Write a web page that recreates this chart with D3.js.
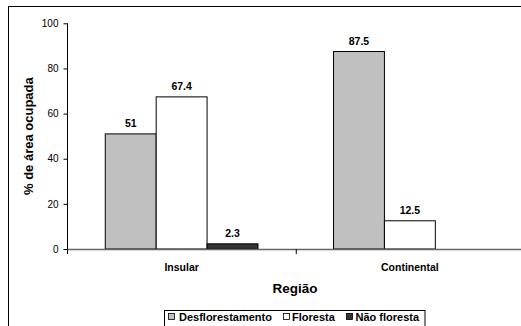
<!DOCTYPE html>
<html>
<head>
<meta charset="utf-8">
<script src="https://cdn.jsdelivr.net/npm/d3@7"></script>
<style>
  html, body { margin: 0; padding: 0; background: #fff; }
  svg { display: block; font-family: "Liberation Sans", Arial, sans-serif; }
</style>
</head>
<body>
<svg id="chart" width="521" height="326"></svg>
<script>
// Land cover share (%) per region
const regions = ["Insular", "Continental"];
const seriesNames = ["Desflorestamento", "Floresta", "Não floresta"];
const desflorestamento = [51, 87.5];
const floresta = [67.4, 12.5];
const naoFloresta = [2.3, null];
const yTicks = [0, 20, 40, 60, 80, 100];

const seriesValues = [desflorestamento, floresta, naoFloresta];
const fills = ["#c0c0c0", "#ffffff", "#333333"];

const svg = d3.select("#chart");

// outer frame
svg.append("rect")
  .attr("x", 8.5).attr("y", 6.5)
  .attr("width", 530).attr("height", 340)
  .attr("fill", "none").attr("stroke", "#000").attr("stroke-width", 1);

const plotLeft = 67.5, plotRight = 524, plotTop = 23.3, plotBottom = 249;

const x0 = d3.scaleBand().domain(regions).range([plotLeft, plotRight]).paddingInner(0).paddingOuter(0);
const x1 = d3.scaleBand().domain(seriesNames).range([0, x0.bandwidth()]).paddingOuter(0.742).paddingInner(0);
const y = d3.scaleLinear().domain([0, 100]).range([plotBottom, plotTop]);

// bars
const rows = [];
regions.forEach((r, i) => {
  seriesNames.forEach((s, j) => {
    const v = seriesValues[j][i];
    if (v != null) rows.push({ region: r, series: s, value: v, fill: fills[j] });
  });
});

svg.append("g").selectAll("rect").data(rows).join("rect")
  .attr("x", d => x0(d.region) + x1(d.series))
  .attr("y", d => y(d.value))
  .attr("width", x1.bandwidth())
  .attr("height", d => y(0) - y(d.value))
  .attr("fill", d => d.fill)
  .attr("stroke", "#000").attr("stroke-width", 1);

// value labels
svg.append("g").selectAll("text").data(rows).join("text")
  .attr("x", d => x0(d.region) + x1(d.series) + x1.bandwidth() / 2)
  .attr("y", d => y(d.value) - 7)
  .attr("text-anchor", "middle")
  .attr("font-size", 10.5).attr("font-weight", "bold")
  .text(d => d.value);

// y axis
const yAxis = d3.axisLeft(y).tickValues(yTicks).tickSize(4).tickPadding(5);
const gy = svg.append("g").attr("transform", `translate(${plotLeft},0)`).call(yAxis);
gy.select(".domain").attr("d", `M0,${plotTop}V${plotBottom + 5}`).attr("stroke", "#000");
gy.selectAll(".tick line").attr("stroke", "#000");
gy.selectAll(".tick text").attr("font-size", 10).attr("fill", "#000")
  .attr("font-family", "'Liberation Sans', Arial, sans-serif");

// x axis baseline with category separators
const gx = svg.append("g");
gx.append("line")
  .attr("x1", plotLeft).attr("x2", plotRight)
  .attr("y1", plotBottom + 0.5).attr("y2", plotBottom + 0.5)
  .attr("stroke", "#666").attr("stroke-width", 1.5);
gx.selectAll("line.sep").data(regions.slice(1)).join("line")
  .attr("class", "sep")
  .attr("x1", d => x0(d) + 0.5).attr("x2", d => x0(d) + 0.5)
  .attr("y1", plotBottom).attr("y2", plotBottom + 5)
  .attr("stroke", "#000");
gx.selectAll("text").data(regions).join("text")
  .attr("x", d => x0(d) + x0.bandwidth() / 2)
  .attr("y", plotBottom + 22)
  .attr("text-anchor", "middle")
  .attr("font-size", 10.5).attr("font-weight", "bold")
  .text(d => d);

// axis titles
svg.append("text")
  .attr("x", 295).attr("y", 293)
  .attr("text-anchor", "middle")
  .attr("font-size", 13.5).attr("font-weight", "bold")
  .text("Região");

svg.append("text")
  .attr("transform", `translate(32.5,${(plotTop + plotBottom) / 2}) rotate(-90)`)
  .attr("text-anchor", "middle")
  .attr("font-size", 13).attr("font-weight", "bold")
  .text("% de área ocupada");

// legend
const lg = svg.append("g");
lg.append("rect")
  .attr("x", 164.5).attr("y", 310.5).attr("width", 260.5).attr("height", 30)
  .attr("fill", "#fff").attr("stroke", "#000");
const swatchX = [168.5, 283.5, 346.5];
const labelX = [179, 292, 355.5];
seriesNames.forEach((s, j) => {
  lg.append("rect")
    .attr("x", swatchX[j]).attr("y", 313.5).attr("width", 6).attr("height", 6)
    .attr("fill", fills[j]).attr("stroke", "#000").attr("stroke-width", 0.8);
  lg.append("text")
    .attr("x", labelX[j]).attr("y", 321)
    .attr("font-size", 11).attr("font-weight", "bold")
    .text(s);
});
</script>
</body>
</html>
